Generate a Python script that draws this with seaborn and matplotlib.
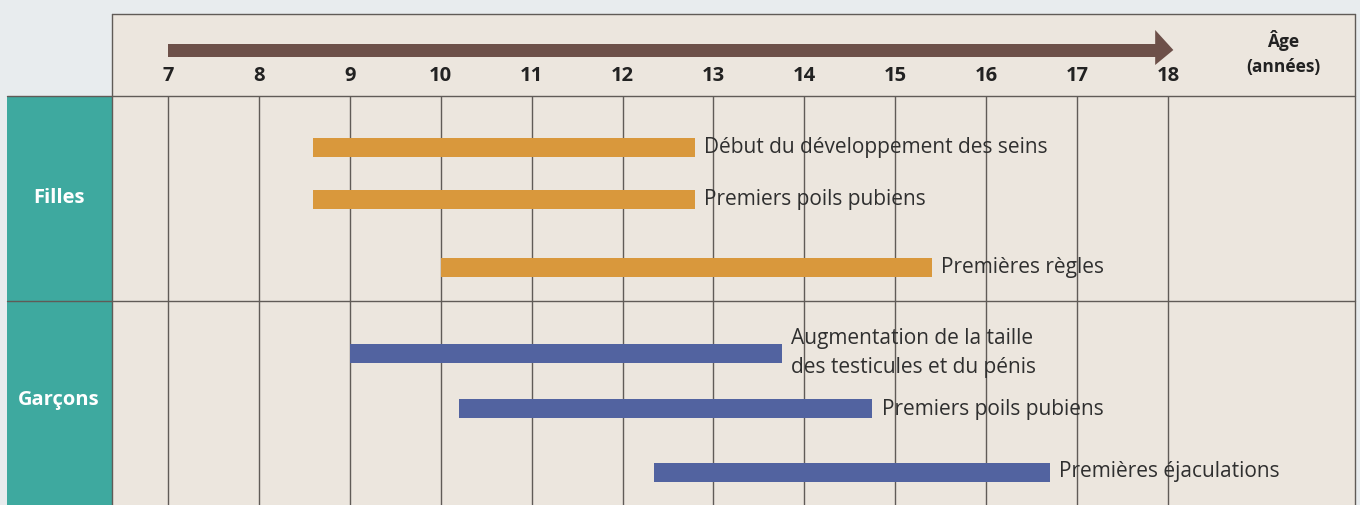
import matplotlib
matplotlib.use("Agg")
import matplotlib.pyplot as plt
from matplotlib.patches import Rectangle, Polygon
import seaborn as sns
import pandas as pd

# ---------------- data ----------------
ages = list(range(7, 19))
girls_labels = ["Début du développement des seins", "Premiers poils pubiens", "Premières règles"]
girls_start = [8.6, 8.6, 10.0]
girls_end = [12.8, 12.8, 15.4]
boys_labels = ["Augmentation de la taille\ndes testicules et du pénis", "Premiers poils pubiens",
               "Premières éjaculations"]
boys_start = [9.0, 10.2, 12.35]
boys_end = [13.75, 14.75, 16.7]
group_names = ["Filles", "Garçons"]
axis_title = "Âge\n(années)"

# ---------------- style ----------------
sns.set_theme(style="white")
plt.rcParams["font.family"] = ["Open Sans", "DejaVu Sans"]

W, H = 1360, 505
OUTER = "#e8ecee"
PANEL = "#ece6de"
TEAL = "#3ea99f"
ORANGE = "#d9983c"
BLUE = "#5263a0"
ARROW = "#6d5049"
LINE = "#605b57"
TEXT = "#2f2f2f"

fig = plt.figure(figsize=(W / 100, H / 100), dpi=100, facecolor=OUTER)

# background axes in pixel coordinates (y from top)
bg = fig.add_axes([0, 0, 1, 1])
bg.set_xlim(0, W)
bg.set_ylim(H, 0)
bg.axis("off")
bg.add_patch(Rectangle((112, 14), 1355 - 112, H - 14, facecolor=PANEL, edgecolor="none", zorder=0))
bg.add_patch(Rectangle((7, 96), 112 - 7, H - 96, facecolor=TEAL, edgecolor="none", zorder=1))
lw = 1.0
bg.plot([112, 1355], [14, 14], color=LINE, lw=lw, zorder=2)
bg.plot([112, 112], [14, H], color=LINE, lw=lw, zorder=2)
bg.plot([1355, 1355], [14, H], color=LINE, lw=lw, zorder=2)
bg.plot([7, 1355], [95.5, 95.5], color=LINE, lw=lw, zorder=2)
bg.plot([7, 1355], [301, 301], color=LINE, lw=lw, zorder=2)
for name, yc in zip(group_names, [198, 400]):
    bg.text(59, yc, name, color="white", fontsize=14.5, fontweight="bold",
            ha="center", va="center", zorder=3)

# main axes: x in years, y in pixels from top
px_per_year = 90.9
x0_px = 168
ax = fig.add_axes([0, 0, 1, 1], facecolor="none")
ax.set_xlim(7 - x0_px / px_per_year, 7 + (W - x0_px) / px_per_year)
ax.set_ylim(H, 0)
ax.axis("off")

# vertical grid lines
ax.vlines(ages, 96, H, color=LINE, lw=lw, zorder=1)

# tick labels
for a in ages:
    ax.text(a, 76, str(a), ha="center", va="center", fontsize=14.5, fontweight="bold",
            color="#222222", zorder=3)
ax.text(1283 / px_per_year + 7 - x0_px / px_per_year, 53, axis_title, ha="center", va="center",
        fontsize=12.5, fontweight="bold", color="#222222", linespacing=1.55, zorder=3)

# arrow
ax.add_patch(Rectangle((7, 43.5), 17.88 - 7, 13.5, facecolor=ARROW, edgecolor="none", zorder=2))
ax.add_patch(Polygon([(17.86, 30), (18.06, 50), (17.86, 65)], closed=True,
                     facecolor=ARROW, edgecolor="none", zorder=2))

# bars
rows_girls = [147, 199, 267]
rows_boys = [353, 408, 472]
df = pd.DataFrame({
    "label": girls_labels + boys_labels,
    "start": girls_start + boys_start,
    "end": girls_end + boys_end,
    "group": ["Filles"] * 3 + ["Garçons"] * 3,
    "row": rows_girls + rows_boys,
})
pal = {"Filles": ORANGE, "Garçons": BLUE}
ax.barh(df["row"], df["end"] - df["start"], left=df["start"], height=19,
        color=[pal[g] for g in df["group"]], edgecolor="none", zorder=2)

label_dy = {0: 0, 1: 0, 2: 0, 3: 0, 4: 1, 5: 0}
for i, r in df.iterrows():
    ax.text(r["end"] + 0.1, r["row"] + label_dy[i], r["label"], ha="left", va="center",
            fontsize=15, color=TEXT, linespacing=1.45, zorder=3)

fig.savefig("out.png", dpi=100, facecolor=OUTER)
